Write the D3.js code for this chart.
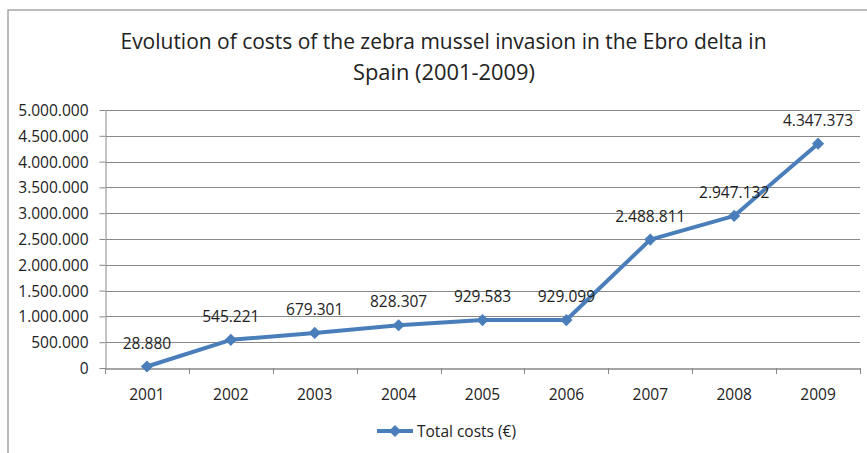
<!DOCTYPE html>
<html>
<head>
<meta charset="utf-8">
<script src="https://cdn.jsdelivr.net/npm/d3@7"></script>
<style>
  html, body { margin: 0; padding: 0; background: #fff; }
  svg { display: block; }
  text { font-family: "Open Sans", Lato, sans-serif; fill: #222; }
</style>
</head>
<body>
<svg id="chart" width="867" height="453"></svg>
<script>
const titleLines = ["Evolution of costs of the zebra mussel invasion in the Ebro delta in", "Spain (2001-2009)"];
const years = ["2001", "2002", "2003", "2004", "2005", "2006", "2007", "2008", "2009"];
const totalCosts = [28880, 545221, 679301, 828307, 929583, 929099, 2488811, 2947132, 4347373];
const yTicks = [0, 500000, 1000000, 1500000, 2000000, 2500000, 3000000, 3500000, 4000000, 4500000, 5000000];
const seriesName = "Total costs (€)";

const svg = d3.select("#chart");
const m = { left: 106, right: 860, top: 110, bottom: 368 };
const blue = "#4a7ebb";
const grey = "#888888";
const fs = 15.5;

const loc = d3.formatLocale({ decimal: ",", thousands: ".", grouping: [3], currency: ["", "€"] });
const fmt = loc.format(",d");

// outer frame (only top and left visible)
svg.append("rect").attr("x", 8).attr("y", 10).attr("width", 1000).attr("height", 1000)
  .attr("fill", "none").attr("stroke", "#a6a6a6").attr("stroke-width", 1.5);

// title
const title = svg.append("g");
title.append("text").attr("x", 443.5).attr("y", 49).attr("text-anchor", "middle")
  .attr("font-size", 22.5).attr("textLength", 646).attr("lengthAdjust", "spacingAndGlyphs")
  .text(titleLines[0]);
title.append("text").attr("x", 444).attr("y", 80).attr("text-anchor", "middle")
  .attr("font-size", 22.5).attr("textLength", 182).attr("lengthAdjust", "spacingAndGlyphs")
  .text(titleLines[1]);

const x = d3.scaleBand().domain(years).range([m.left - 1, m.right]).padding(0);
const y = d3.scaleLinear().domain([0, 5000000]).range([m.bottom, m.top]);

// gridlines
svg.append("g").selectAll("line").data(yTicks.slice(1)).join("line")
  .attr("x1", m.left).attr("x2", m.right)
  .attr("y1", d => Math.round(y(d)) + 0.5).attr("y2", d => Math.round(y(d)) + 0.5)
  .attr("stroke", grey).attr("stroke-width", 1);

// y axis
const yAxis = svg.append("g").attr("transform", `translate(${m.left - 0.5},0)`)
  .call(d3.axisLeft(y).tickValues(yTicks).tickFormat(fmt).tickSizeInner(6).tickSizeOuter(0).tickPadding(11));
yAxis.select(".domain").attr("stroke", grey);
yAxis.selectAll(".tick line").attr("stroke", grey);
yAxis.selectAll(".tick text").attr("font-size", fs).attr("fill", "#222")
  .attr("font-family", "'Open Sans', sans-serif").attr("dy", "0.36em");

// x axis
const xAxis = svg.append("g").attr("transform", `translate(0,${m.bottom + 0.5})`)
  .call(d3.axisBottom(x).tickSize(0).tickPadding(20));
xAxis.select(".domain").attr("stroke", grey).attr("stroke-width", 1.5);
xAxis.selectAll(".tick text").attr("font-size", fs).attr("fill", "#222")
  .attr("font-family", "'Open Sans', sans-serif");
// category boundary ticks
const bounds = years.map(d => x(d)).concat([x(years[years.length - 1]) + x.bandwidth()]);
svg.append("g").selectAll("line").data(bounds).join("line")
  .attr("x1", d => Math.round(d) + 0.5).attr("x2", d => Math.round(d) + 0.5)
  .attr("y1", m.bottom).attr("y2", m.bottom + 6)
  .attr("stroke", grey).attr("stroke-width", 1);

// line
const cx = d => x(d) + x.bandwidth() / 2;
const line = d3.line().x((d, i) => cx(years[i])).y(d => y(d));
svg.append("path").datum(totalCosts).attr("d", line)
  .attr("fill", "none").attr("stroke", blue).attr("stroke-width", 4).attr("stroke-linejoin", "round");

const diamond = d3.symbol().type(d3.symbolDiamond2).size(95);
svg.append("g").selectAll("path").data(totalCosts).join("path")
  .attr("d", diamond)
  .attr("transform", (d, i) => `translate(${cx(years[i])},${y(d)})`)
  .attr("fill", blue);

// data labels
svg.append("g").selectAll("text").data(totalCosts).join("text")
  .attr("x", (d, i) => cx(years[i])).attr("y", d => y(d) - 18)
  .attr("text-anchor", "middle").attr("font-size", fs)
  .text(d => fmt(d));

// legend
const lg = svg.append("g");
lg.append("line").attr("x1", 377).attr("x2", 413).attr("y1", 431).attr("y2", 431)
  .attr("stroke", blue).attr("stroke-width", 4);
lg.append("path").attr("d", diamond).attr("transform", "translate(395,431)").attr("fill", blue);
lg.append("text").attr("x", 417).attr("y", 437).attr("font-size", fs).text(seriesName);
</script>
</body>
</html>
